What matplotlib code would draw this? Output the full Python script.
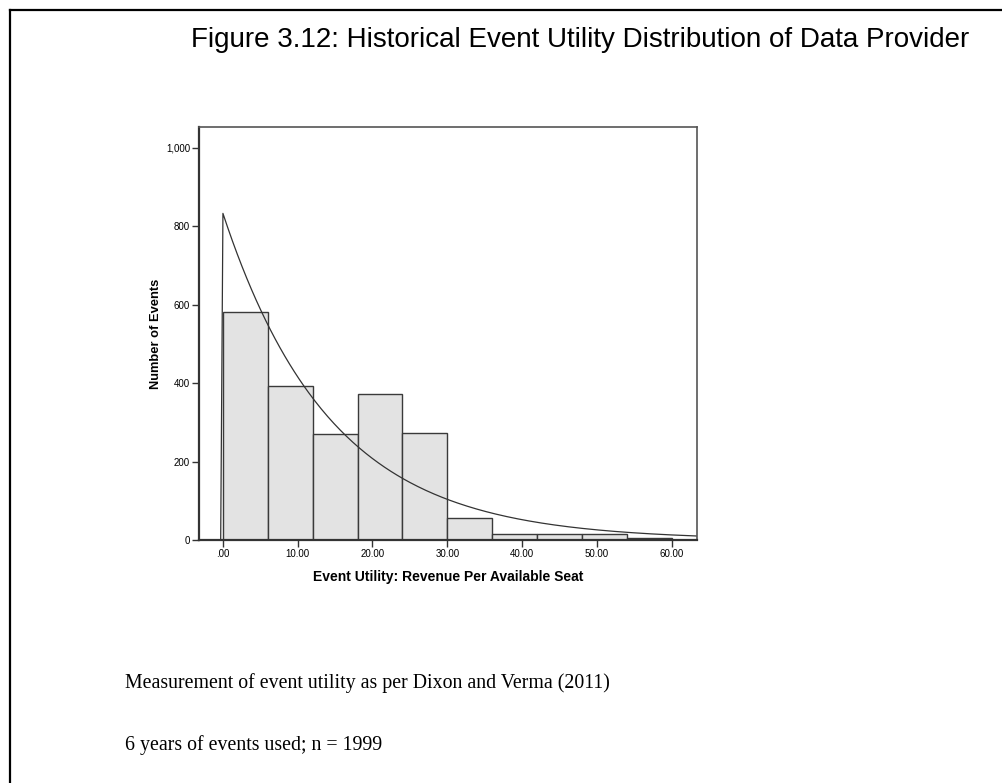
import numpy as np
import matplotlib.pyplot as plt
from matplotlib.lines import Line2D

# histogram (bin width 6)
bin_edges = [0, 6, 12, 18, 24, 30, 36, 42, 48, 54, 60]
counts = [582, 393, 270, 371, 274, 57, 16, 16, 16, 4]
y_ticks = [0, 200, 400, 600, 800, 1000]
y_tick_labels = ['0', '200', '400', '600', '800', '1,000']
x_ticks = [0, 10, 20, 30, 40, 50, 60]
x_tick_labels = ['.00', '10.00', '20.00', '30.00', '40.00', '50.00', '60.00']

title = 'Figure 3.12: Historical Event Utility Distribution of Data Provider'
notes = ['Measurement of event utility as per Dixon and Verma (2011)',
         '6 years of events used; n = 1999']

plt.rcParams['font.family'] = ['Liberation Sans', 'DejaVu Sans']

fig = plt.figure(figsize=(10.02, 7.83), dpi=100)
W, H = 1002, 783

# page frame (left and top rules)
fig.add_artist(Line2D([10 / W, 10 / W], [0, 1 - 10 / H], color='black', lw=1.6))
fig.add_artist(Line2D([10 / W, 1], [1 - 10 / H, 1 - 10 / H], color='black', lw=1.6))

fig.text(580 / W, 1 - 40 / H, title, ha='center', va='center', fontsize=20)

ax = fig.add_axes([199 / W, 1 - 540 / H, 498 / W, 413 / H])

widths = np.diff(bin_edges)
ax.bar(bin_edges[:-1], counts, width=widths, align='edge',
       color='#e3e3e3', edgecolor='#3a3a3a', linewidth=1.0)

# exponential fit through the data mean (as SPSS draws it)
mids = (np.array(bin_edges[:-1]) + np.array(bin_edges[1:])) / 2
n = sum(counts)
mean = np.sum(mids * np.array(counts)) / n
xs = np.linspace(0, 63.4, 300)
ys = n * widths[0] / mean * np.exp(-xs / mean)
ax.plot(np.r_[-0.3, xs], np.r_[0, ys], color='#333333', lw=0.9)

ax.set_xlim(-3.2, 63.4)
ax.set_ylim(0, 1053)
ax.set_xticks(x_ticks)
ax.set_xticklabels(x_tick_labels)
ax.set_yticks(y_ticks)
ax.set_yticklabels(y_tick_labels)
ax.tick_params(direction='out', length=5, width=1, color='#333333',
               labelsize=7, pad=1.5)
for s in ax.spines.values():
    s.set_color('#555555')
    s.set_linewidth(1.2)
ax.spines['left'].set_color('#333333')
ax.spines['bottom'].set_color('#333333')
ax.spines['left'].set_linewidth(1.6)
ax.spines['bottom'].set_linewidth(1.6)

ax.set_xlabel('Event Utility: Revenue Per Available Seat', fontsize=10,
              fontweight='bold', labelpad=8)
ax.set_ylabel('Number of Events', fontsize=9.3, fontweight='bold', labelpad=2.5)

fig.text(125 / W, 1 - 688 / H, notes[0], ha='left', va='baseline',
         fontsize=14.3, family='Liberation Serif')
fig.text(125 / W, 1 - 750 / H, notes[1], ha='left', va='baseline',
         fontsize=14.3, family='Liberation Serif')

fig.savefig('out.png', dpi=100)
